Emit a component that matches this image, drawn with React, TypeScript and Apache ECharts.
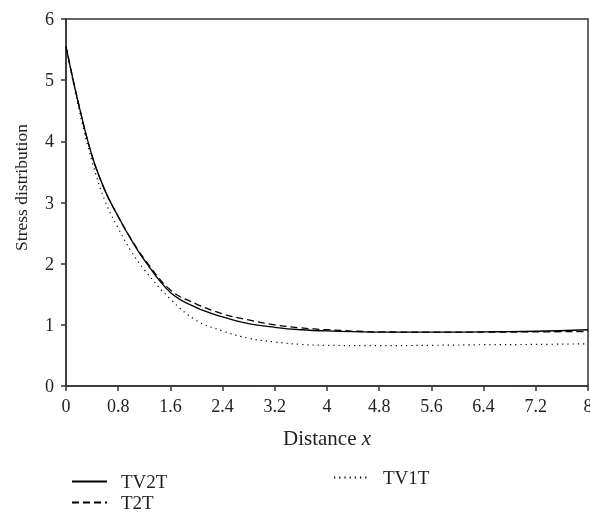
import React, { useEffect, useRef } from "react";
import * as echarts from "echarts";

const xValues = [0, 0.2, 0.4, 0.6, 0.8, 1.0, 1.2, 1.6, 2.0, 2.4, 2.8, 3.2, 3.6, 4.0, 4.8, 5.6, 6.4, 7.2, 8.0];
const tv2t = [5.55, 4.58, 3.76, 3.19, 2.77, 2.39, 2.06, 1.53, 1.28, 1.13, 1.02, 0.96, 0.92, 0.9, 0.88, 0.88, 0.885, 0.895, 0.92];
const t2t = [5.55, 4.58, 3.76, 3.19, 2.77, 2.4, 2.08, 1.57, 1.34, 1.18, 1.08, 1.0, 0.95, 0.92, 0.885, 0.88, 0.88, 0.885, 0.89];
const tv1t = [5.55, 4.52, 3.67, 3.02, 2.58, 2.2, 1.9, 1.42, 1.07, 0.9, 0.78, 0.72, 0.68, 0.665, 0.66, 0.665, 0.675, 0.68, 0.69];

const seriesNames = ["TV2T", "T2T", "TV1T"];
const FONT = "'Liberation Serif', 'Times New Roman', serif";

export default function App() {
  const ref = useRef<HTMLDivElement>(null);
  useEffect(() => {
    if (!ref.current) return;
    const chart = echarts.init(ref.current, undefined, { renderer: "svg" });
    const pair = (ys: number[]) => xValues.map((x, i) => [x, ys[i]]);
    const lineColor = "#000";
    const legendText = { fontFamily: FONT, fontSize: 19, lineHeight: 19, color: "#222", padding: [0, 0, 0, 9] };
    const legendBase = {
      orient: "horizontal",
      padding: 0,
      itemWidth: 35,
      itemHeight: 16,
      itemStyle: { opacity: 0, borderWidth: 0 },
      textStyle: legendText,
    };
    chart.setOption({
      animation: false,
      textStyle: { fontFamily: FONT, color: "#222" },
      grid: {
        left: 66,
        right: 2,
        top: 19,
        bottom: 127,
        outerBoundsMode: "none",
        containLabel: false,
        show: true,
        borderColor: "#333",
        borderWidth: 1.5,
      },
      legend: [
        { ...legendBase, data: [seriesNames[0]], left: 71, top: 472 },
        { ...legendBase, data: [seriesNames[1]], left: 71, top: 493 },
        { ...legendBase, data: [seriesNames[2]], left: 333, top: 468 },
      ],
      xAxis: {
        type: "value",
        min: 0,
        max: 8,
        interval: 0.8,
        name: "Distance {i|x}",
        nameLocation: "middle",
        nameGap: 41,
        nameTextStyle: {
          fontFamily: FONT,
          fontSize: 21,
          color: "#222",
          rich: { i: { fontFamily: FONT, fontSize: 21, fontStyle: "italic", color: "#222" } },
        },
        axisLine: { show: true, lineStyle: { color: "#333", width: 1.5 } },
        axisTick: { show: true, inside: false, length: 5, lineStyle: { color: "#333", width: 1.5 } },
        axisLabel: {
          margin: 11,
          fontFamily: FONT,
          fontSize: 18,
          color: "#222",
          hideOverlap: false,
          formatter: (v: number) => String(+v.toFixed(1)),
        },
        splitLine: { show: false },
      },
      yAxis: {
        type: "value",
        min: 0,
        max: 6,
        interval: 1,
        name: "Stress distribution",
        nameLocation: "middle",
        nameGap: 36,
        nameTextStyle: { fontFamily: FONT, fontSize: 17.5, color: "#222", padding: [0, 0, 0, 30] },
        axisLine: { show: true, lineStyle: { color: "#333", width: 1.5 } },
        axisTick: { show: true, inside: false, length: 5, lineStyle: { color: "#333", width: 1.5 } },
        axisLabel: { margin: 12, fontFamily: FONT, fontSize: 18, color: "#222" },
        splitLine: { show: false },
      },
      series: [
        {
          name: seriesNames[0],
          type: "line",
          data: pair(tv2t),
          smooth: 0.4,
          symbol: "none",
          lineStyle: { color: lineColor, width: 1.3, type: "solid" },
          itemStyle: { color: lineColor },
        },
        {
          name: seriesNames[1],
          type: "line",
          data: pair(t2t),
          smooth: 0.4,
          symbol: "none",
          lineStyle: { color: lineColor, width: 1.3, type: [7, 4] },
          itemStyle: { color: lineColor },
        },
        {
          name: seriesNames[2],
          type: "line",
          data: pair(tv1t),
          smooth: 0.4,
          symbol: "none",
          lineStyle: { color: lineColor, width: 1.2, type: [1.2, 4] },
          itemStyle: { color: lineColor },
        },
      ],
    });
    return () => chart.dispose();
  }, []);
  return <div ref={ref} style={{ position: "fixed", left: 0, top: 0, width: 590, height: 513 }} />;
}
